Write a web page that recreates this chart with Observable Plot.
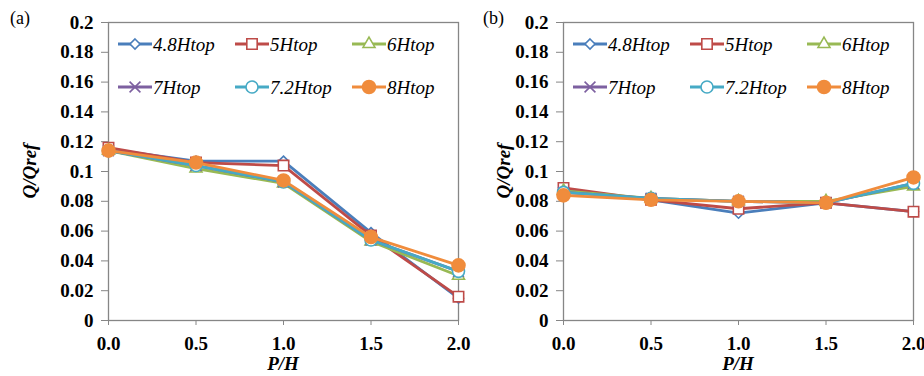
<!DOCTYPE html>
<html>
<head>
<meta charset="utf-8">
<script src="https://cdn.jsdelivr.net/npm/d3@7"></script>
<script src="https://cdn.jsdelivr.net/npm/@observablehq/plot@0.6"></script>
<style>
  html, body { margin: 0; padding: 0; background: #fff; overflow: hidden; }
  #chart { display: flex; width: 924px; height: 376px; background: #fff; }
  #chart svg { display: block; overflow: visible; }
</style>
</head>
<body>
<div id="chart"></div>
<script>
// ---- data ----
const xVals = [0, 0.5, 1.0, 1.5, 2.0];
const seriesNames = ["4.8Htop", "5Htop", "6Htop", "7Htop", "7.2Htop", "8Htop"];
const yTicks = [0, 0.02, 0.04, 0.06, 0.08, 0.1, 0.12, 0.14, 0.16, 0.18, 0.2];

// panel (a)
const a48 = [0.115, 0.107, 0.107, 0.059, 0.015];
const a5  = [0.116, 0.106, 0.104, 0.057, 0.016];
const a6  = [0.114, 0.102, 0.092, 0.053, 0.030];
const a7  = [0.114, 0.104, 0.093, 0.054, 0.033];
const a72 = [0.114, 0.104, 0.093, 0.054, 0.033];
const a8  = [0.114, 0.106, 0.094, 0.056, 0.037];

// panel (b)
const b48 = [0.088, 0.081, 0.072, 0.079, 0.073];
const b5  = [0.089, 0.081, 0.075, 0.079, 0.073];
const b6  = [0.087, 0.082, 0.080, 0.080, 0.090];
const b7  = [0.086, 0.082, 0.080, 0.079, 0.092];
const b72 = [0.086, 0.082, 0.080, 0.079, 0.092];
const b8  = [0.084, 0.081, 0.080, 0.079, 0.096];

// ---- styles ----
const colors  = ["#4A7EBB", "#BE4B48", "#98B954", "#7D60A0", "#46AAC5", "#F08C3C"];
const symbols = ["diamond2", "square2", "triangle2", "times", "circle", "circle"];
const radii   = [4.5, 6.6, 5.7, 5.0, 6.0, 6.5];
const fills   = ["white", "white", "white", "none", "white", "#F08C3C"];
const d3Sym = {diamond2: d3.symbolDiamond2, square2: d3.symbolSquare2, triangle2: d3.symbolTriangle2, times: d3.symbolTimes, circle: d3.symbolCircle};
const SERIF = "'Liberation Serif', 'Times New Roman', serif";

function makePanel(values, opt) {
  const rows = [];
  values.forEach((arr, si) => arr.forEach((v, i) => rows.push({series: seriesNames[si], si, x: xVals[i], y: v})));
  const marks = [
    Plot.frame({stroke: "#868686", strokeWidth: 1.3}),
    Plot.axisY({ticks: yTicks, tickFormat: d => String(+d.toFixed(2)), tickSize: 7, tickPadding: 8, stroke: "#868686", label: null, fontWeight: "bold"}),
    Plot.axisX({ticks: xVals, tickFormat: d => d.toFixed(1), tickSize: 5, tickPadding: 11, stroke: "#868686", label: null, fontWeight: "bold"})
  ];
  seriesNames.forEach((name, si) => {
    const d = rows.filter(r => r.si === si);
    marks.push(Plot.line(d, {x: "x", y: "y", stroke: colors[si], strokeWidth: 2.8}));
    marks.push(Plot.dot(d, {x: "x", y: "y", symbol: () => symbols[si], r: radii[si], stroke: colors[si], strokeWidth: 1.6, fill: fills[si]}));
  });
  const chart = Plot.plot({
    width: 462, height: 376,
    marginLeft: opt.marginLeft, marginRight: opt.marginRight, marginTop: 22, marginBottom: 56,
    x: {domain: [0, 2]},
    y: {domain: [0, 0.2]},
    symbol: {type: "identity"},
    style: {fontFamily: SERIF, fontSize: "19px", color: "black", background: "transparent", overflow: "visible"},
    marks
  });

  const svg = d3.select(chart);
  // panel label
  svg.append("text").attr("x", opt.labelX).attr("y", 24).attr("text-anchor", "start")
    .attr("font-family", SERIF).attr("font-size", 18).text(opt.label);
  // y title
  svg.append("text").attr("transform", `translate(${opt.yTitleX},171) rotate(-90)`)
    .attr("text-anchor", "middle").attr("font-family", SERIF).attr("font-size", 19)
    .attr("font-weight", "bold").attr("font-style", "italic").text("Q/Qref");
  // x title
  const left = opt.marginLeft, right = 462 - opt.marginRight;
  svg.append("text").attr("x", (left + right) / 2).attr("y", 370)
    .attr("text-anchor", "middle").attr("font-family", SERIF).attr("font-size", 19)
    .attr("font-weight", "bold").attr("font-style", "italic").text("P/H");
  // legend
  const colX = [10, 127, 244], rowY = [44, 87];
  seriesNames.forEach((name, si) => {
    const x0 = left + colX[si % 3], y0 = rowY[Math.floor(si / 3)];
    const g = svg.append("g");
    g.append("line").attr("x1", x0).attr("x2", x0 + 34).attr("y1", y0).attr("y2", y0)
      .attr("stroke", colors[si]).attr("stroke-width", 2.8);
    g.append("path").attr("transform", `translate(${x0 + 17},${y0})`)
      .attr("d", d3.symbol(d3Sym[symbols[si]], Math.PI * radii[si] * radii[si])())
      .attr("fill", fills[si]).attr("stroke", colors[si]).attr("stroke-width", 1.6);
    g.append("text").attr("x", x0 + 35).attr("y", y0 + 6.5).attr("text-anchor", "start")
      .attr("font-family", SERIF).attr("font-size", 19).attr("font-style", "italic").text(name);
  });
  return chart;
}

const root = document.getElementById("chart");
root.appendChild(makePanel([a48, a5, a6, a7, a72, a8], {marginLeft: 108, marginRight: 4, label: "(a)", labelX: 10, yTitleX: 36}));
root.appendChild(makePanel([b48, b5, b6, b7, b72, b8], {marginLeft: 101, marginRight: 11, label: "(b)", labelX: 21, yTitleX: 48}));
</script>
</body>
</html>
